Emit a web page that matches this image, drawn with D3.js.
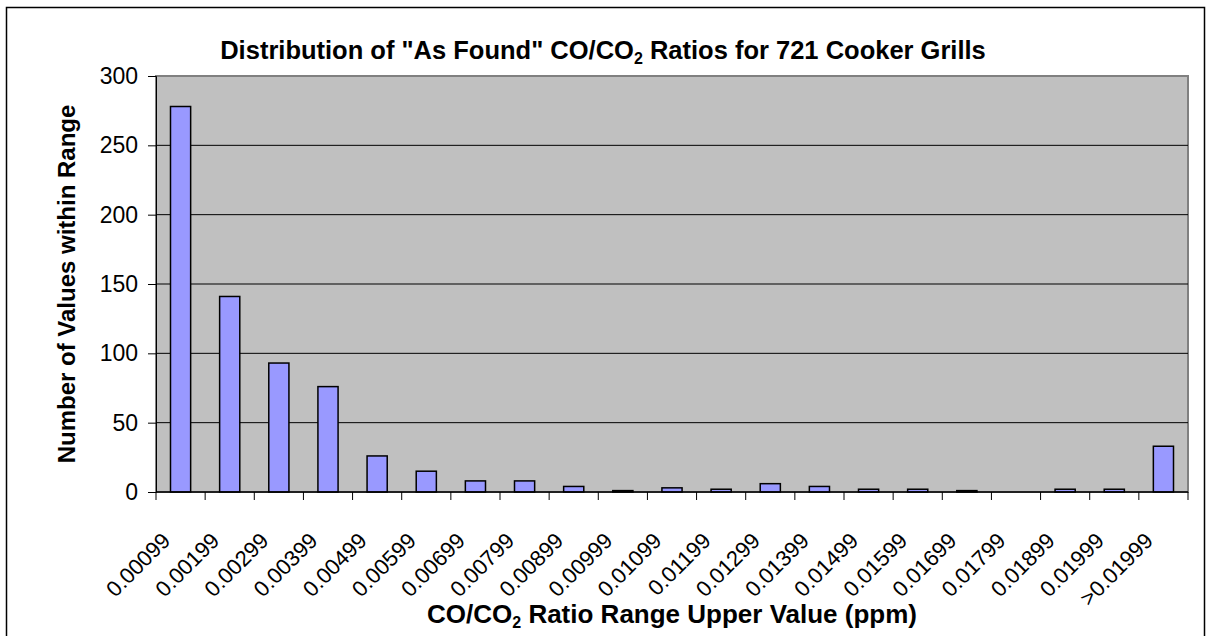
<!DOCTYPE html>
<html>
<head>
<meta charset="utf-8">
<script src="https://cdn.jsdelivr.net/npm/d3@7"></script>
<style>
  body { margin: 0; background: #fff; }
  text { font-family: Arial, "Liberation Sans", sans-serif; }
</style>
</head>
<body>
<script>
// категории (верхняя граница диапазона) и количество значений
const categories = ["0.00099", "0.00199", "0.00299", "0.00399", "0.00499", "0.00599",
  "0.00699", "0.00799", "0.00899", "0.00999", "0.01099", "0.01199", "0.01299",
  "0.01399", "0.01499", "0.01599", "0.01699", "0.01799", "0.01899", "0.01999", ">0.01999"];
const counts = [278, 141, 93, 76, 26, 15, 8, 8, 4, 1, 3, 2, 6, 4, 2, 2, 1, 0, 2, 2, 33];
const yTicks = [0, 50, 100, 150, 200, 250, 300];

const w = 1210;
const h = 636;

// область графика
const plotLeft = 156, plotRight = 1188, plotTop = 76, plotBottom = 492;

const svg = d3.select("body")
  .append("svg")
  .attr("width", w)
  .attr("height", h);

// внешняя рамка
svg.append("rect")
  .attr("x", 6.5).attr("y", 7.5)
  .attr("width", 1198).attr("height", 640)
  .attr("fill", "#fff")
  .attr("stroke", "#000")
  .attr("stroke-width", 1.5);

const xScale = d3.scaleBand()
  .domain(categories)
  .range([plotLeft, plotRight])
  .paddingInner(0.59)
  .paddingOuter(0.295);

const yScale = d3.scaleLinear()
  .domain([0, 300])
  .range([plotBottom, plotTop]);

// серый фон
svg.append("rect")
  .attr("x", plotLeft).attr("y", plotTop)
  .attr("width", plotRight - plotLeft).attr("height", plotBottom - plotTop)
  .attr("fill", "#c0c0c0")
  .attr("stroke", "#808080")
  .attr("stroke-width", 2);

// линии сетки
svg.append("g")
  .selectAll("line")
  .data(yTicks.filter(d => d > 0 && d < 300))
  .enter()
  .append("line")
  .attr("x1", plotLeft).attr("x2", plotRight)
  .attr("y1", d => yScale(d)).attr("y2", d => yScale(d))
  .attr("stroke", "#000")
  .attr("stroke-width", 1);

// столбцы
svg.append("g")
  .selectAll("rect")
  .data(counts)
  .enter()
  .append("rect")
  .attr("x", (d, i) => xScale(categories[i]))
  .attr("y", d => yScale(d))
  .attr("width", xScale.bandwidth())
  .attr("height", d => plotBottom - yScale(d))
  .attr("fill", "#9999ff")
  .attr("stroke", "#000")
  .attr("stroke-width", 1.5);

// ось Y
const yAxis = d3.axisLeft(yScale).tickValues(yTicks).tickSize(8).tickPadding(10);
const gy = svg.append("g")
  .attr("transform", "translate(" + plotLeft + ",0)")
  .call(yAxis);
gy.select(".domain").attr("stroke", "#000");
gy.selectAll("text").attr("font-size", 23).attr("fill", "#000")
  .attr("font-family", "Arial, 'Liberation Sans', sans-serif");

// ось X: деления на границах категорий
const step = xScale.step();
const xEdges = d3.range(categories.length + 1).map(i => plotLeft + i * step);
svg.append("line")
  .attr("x1", plotLeft).attr("x2", plotRight)
  .attr("y1", plotBottom).attr("y2", plotBottom)
  .attr("stroke", "#000").attr("stroke-width", 1.5);
svg.append("g")
  .selectAll("line")
  .data(xEdges)
  .enter()
  .append("line")
  .attr("x1", d => d).attr("x2", d => d)
  .attr("y1", plotBottom).attr("y2", plotBottom + 8)
  .attr("stroke", "#000");

// подписи категорий под углом
svg.append("g")
  .selectAll("text")
  .data(categories)
  .enter()
  .append("text")
  .attr("transform", d => "translate(" + (xScale(d) + xScale.bandwidth() / 2 - 9) + "," + (plotBottom + 50) + ") rotate(-45)")
  .attr("text-anchor", "end")
  .attr("font-size", 22)
  .text(d => d);

// заголовок
const title = svg.append("text")
  .attr("x", 603).attr("y", 59)
  .attr("text-anchor", "middle")
  .attr("font-size", 25.5)
  .attr("font-weight", "bold");
title.append("tspan").text("Distribution of \"As Found\" CO/CO");
title.append("tspan").text("2").attr("font-size", 16).attr("dy", 5);
title.append("tspan").text(" Ratios for 721 Cooker Grills").attr("dy", -5);

// подпись оси X
const xt = svg.append("text")
  .attr("x", 672).attr("y", 623)
  .attr("text-anchor", "middle")
  .attr("font-size", 26)
  .attr("font-weight", "bold");
xt.append("tspan").text("CO/CO");
xt.append("tspan").text("2").attr("font-size", 16).attr("dy", 5);
xt.append("tspan").text(" Ratio Range Upper Value (ppm)").attr("dy", -5);

// подпись оси Y
svg.append("text")
  .attr("transform", "translate(75," + ((plotTop + plotBottom) / 2) + ") rotate(-90)")
  .attr("text-anchor", "middle")
  .attr("font-size", 24)
  .attr("font-weight", "bold")
  .text("Number of Values within Range");
</script>
</body>
</html>
